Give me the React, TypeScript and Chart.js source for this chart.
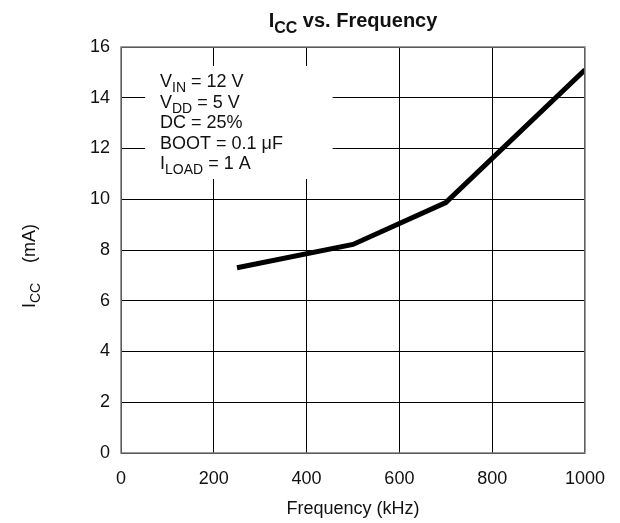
import React, { useEffect, useRef } from "react";
import { Chart, registerables } from "chart.js";

Chart.register(...registerables);

const freqKHz = [250, 500, 700, 1000];
const iccMA = [7.3, 8.22, 9.87, 15.1];
const xTicks = [0, 200, 400, 600, 800, 1000];
const yTicks = [0, 2, 4, 6, 8, 10, 12, 14, 16];

type Part = { t: string; sub?: boolean };
const conditions: Part[][] = [
  [{ t: "V" }, { t: "IN", sub: true }, { t: " = 12 V" }],
  [{ t: "V" }, { t: "DD", sub: true }, { t: " = 5 V" }],
  [{ t: "DC = 25%" }],
  [{ t: "BOOT = 0.1 \u03bcF" }],
  [{ t: "I" }, { t: "LOAD", sub: true }, { t: " = 1 A" }],
];

const FONT = "'Liberation Sans', Arial, Helvetica, sans-serif";

function drawRich(
  ctx: CanvasRenderingContext2D,
  parts: Part[],
  x: number,
  y: number,
  size: number,
  bold: boolean,
  align: "left" | "center"
) {
  const w = bold ? "bold " : "";
  const subSize = Math.round(size * 0.8);
  let total = 0;
  for (const p of parts) {
    ctx.font = `${w}${p.sub ? subSize : size}px ${FONT}`;
    total += ctx.measureText(p.t).width;
  }
  let cx = align === "center" ? x - total / 2 : x;
  ctx.textBaseline = "alphabetic";
  ctx.textAlign = "left";
  for (const p of parts) {
    ctx.font = `${w}${p.sub ? subSize : size}px ${FONT}`;
    ctx.fillText(p.t, cx, p.sub ? y + size * 0.28 : y);
    cx += ctx.measureText(p.t).width;
  }
}

const decorPlugin = {
  id: "decor",
  beforeDatasetsDraw(chart: any) {
    const ctx = chart.ctx as CanvasRenderingContext2D;
    const xs = chart.scales.x;
    const ys = chart.scales.y;
    ctx.save();
    const bx0 = xs.getPixelForValue(52);
    const bx1 = xs.getPixelForValue(456);
    const by0 = ys.getPixelForValue(15.25);
    const by1 = ys.getPixelForValue(10.8);
    ctx.fillStyle = "#ffffff";
    ctx.fillRect(bx0, by0, bx1 - bx0, by1 - by0);
    ctx.fillStyle = "#111";
    let yb = 87;
    for (const line of conditions) {
      drawRich(ctx, line, 160, yb, 18, false, "left");
      yb += 20.5;
    }
    ctx.restore();
  },
  afterDraw(chart: any) {
    const ctx = chart.ctx as CanvasRenderingContext2D;
    const { left, right, top, bottom } = chart.chartArea;
    ctx.save();
    ctx.strokeStyle = "#7a7a7a";
    ctx.lineWidth = 1.5;
    ctx.strokeRect(left, top, right - left, bottom - top);
    ctx.fillStyle = "#111";
    const cxm = (left + right) / 2;
    drawRich(ctx, [{ t: "I" }, { t: "CC", sub: true }, { t: " vs. Frequency" }], cxm, 27, 20, true, "center");
    drawRich(ctx, [{ t: "Frequency (kHz)" }], cxm, 514, 18, false, "center");
    ctx.translate(35, 266);
    ctx.rotate(-Math.PI / 2);
    drawRich(ctx, [{ t: "I" }, { t: "CC", sub: true }, { t: "    (mA)" }], 0, 0, 18, false, "center");
    ctx.restore();
  },
};

export default function App() {
  const ref = useRef<HTMLCanvasElement>(null);
  useEffect(() => {
    if (!ref.current) return;
    const chart = new Chart(ref.current, {
      type: "line",
      data: {
        datasets: [
          {
            data: freqKHz.map((f, i) => ({ x: f, y: iccMA[i] })),
            borderColor: "#000",
            borderWidth: 5,
            pointRadius: 0,
            tension: 0,
            fill: false,
            borderCapStyle: "butt",
            borderJoinStyle: "miter",
          },
        ],
      },
      options: {
        responsive: false,
        animation: false,
        layout: { padding: { left: 71, right: 34, top: 47, bottom: 10 } },
        plugins: { legend: { display: false }, tooltip: { enabled: false }, title: { display: false } },
        scales: {
          x: {
            type: "linear",
            min: 0,
            max: 1000,
            afterBuildTicks: (s: any) => {
              s.ticks = xTicks.map((v) => ({ value: v }));
            },
            afterFit: (s: any) => {
              s.height = 60;
            },
            grid: { color: "#000", lineWidth: 1, drawTicks: false },
            border: { display: false },
            ticks: {
              padding: 15,
              color: "#111",
              font: { family: FONT, size: 18 },
              maxRotation: 0,
              callback: (v: any) => String(v),
            },
          },
          y: {
            type: "linear",
            min: 0,
            max: 16,
            afterBuildTicks: (s: any) => {
              s.ticks = yTicks.map((v) => ({ value: v }));
            },
            afterFit: (s: any) => {
              s.width = 50;
            },
            grid: { color: "#000", lineWidth: 1, drawTicks: false },
            border: { display: false },
            ticks: { padding: 11, color: "#111", font: { family: FONT, size: 18 }, callback: (v: any) => String(v) },
          },
        },
      },
      plugins: [decorPlugin],
    } as any);
    return () => chart.destroy();
  }, []);
  return (
    <div style={{ position: "fixed", left: 0, top: 0, width: 620, height: 523, background: "#fff" }}>
      <canvas ref={ref} width={620} height={523} style={{ display: "block" }} />
    </div>
  );
}
